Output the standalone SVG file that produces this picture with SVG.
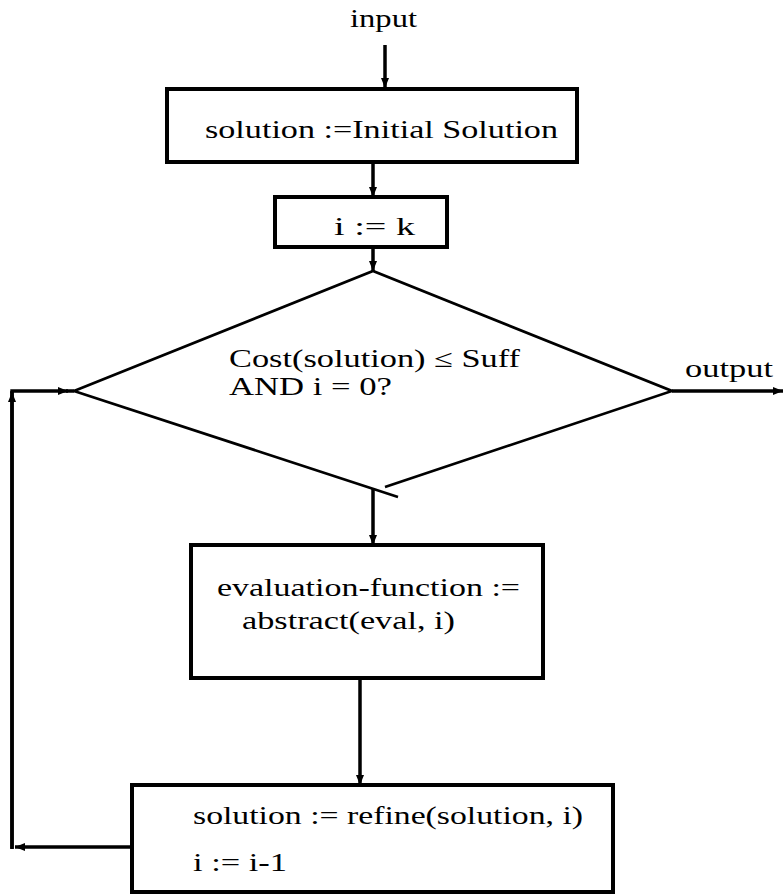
<svg xmlns="http://www.w3.org/2000/svg" width="783" height="894" viewBox="0 0 783 894" font-family="Liberation Serif, DejaVu Serif, serif" font-size="25">
<defs>
<marker id="ah" viewBox="0 0 10 8" refX="10" refY="4" markerWidth="10" markerHeight="8" markerUnits="userSpaceOnUse" orient="auto">
<path d="M0,0 L10,4 L0,8 z" fill="#000"/>
</marker>
</defs>
<style>
.box{fill:#fff;stroke:#000;stroke-width:4}
.dia{fill:none;stroke:#000;stroke-width:2.7}
.con{fill:none;stroke:#000;stroke-width:3.5}
.arr{marker-end:url(#ah)}
</style>
<rect width="783" height="894" fill="#fff"/>
<g id="connectors">
<path class="con arr" d="M385,45 V88"/>
<path class="con arr" d="M373,162 V197"/>
<path class="con arr" d="M373,247 V271"/>
<path class="con arr" d="M672,391 H783"/>
<path class="con arr" d="M373,488 V545"/>
<path class="con arr" d="M360,678 V785"/>
<path class="con arr" d="M132,847 H15"/>
<path class="con" d="M12,848.7 V391"/>
<path class="con arr" d="M12,849 V392"/>
<path class="con arr" d="M10.3,391 H68"/>
<path class="con" d="M66,391 H74"/>
</g>
<g id="input-label">
<text x="350" y="27" textLength="67" lengthAdjust="spacingAndGlyphs">input</text>
</g>
<g id="init">
<rect class="box" x="167" y="89" width="410" height="73"/>
<text x="205" y="138" textLength="353" lengthAdjust="spacingAndGlyphs">solution :=Initial Solution</text>
</g>
<g id="setk">
<rect class="box" x="275" y="197" width="172" height="50"/>
<text x="334" y="235" textLength="81" lengthAdjust="spacingAndGlyphs">i := k</text>
</g>
<g id="decision">
<path class="dia" d="M74,391 L373,271 L672,391 L385,487"/>
<path class="dia" d="M74,391 L398,497"/>
<text x="229" y="367" textLength="291" lengthAdjust="spacingAndGlyphs">Cost(solution) ≤ Suff</text>
<text x="229" y="395" textLength="163" lengthAdjust="spacingAndGlyphs">AND i = 0?</text>
</g>
<g id="output-label">
<text x="685" y="377" textLength="88" lengthAdjust="spacingAndGlyphs">output</text>
</g>
<g id="evaluate">
<rect class="box" x="191" y="545" width="352" height="133"/>
<text x="217" y="596" textLength="303" lengthAdjust="spacingAndGlyphs">evaluation-function :=</text>
<text x="242" y="629" textLength="213" lengthAdjust="spacingAndGlyphs">abstract(eval, i)</text>
</g>
<g id="refine">
<rect class="box" x="132" y="785" width="481" height="107"/>
<text x="193" y="824" textLength="390" lengthAdjust="spacingAndGlyphs">solution := refine(solution, i)</text>
<text x="193" y="871" textLength="94" lengthAdjust="spacingAndGlyphs">i := i-1</text>
</g>
</svg>
